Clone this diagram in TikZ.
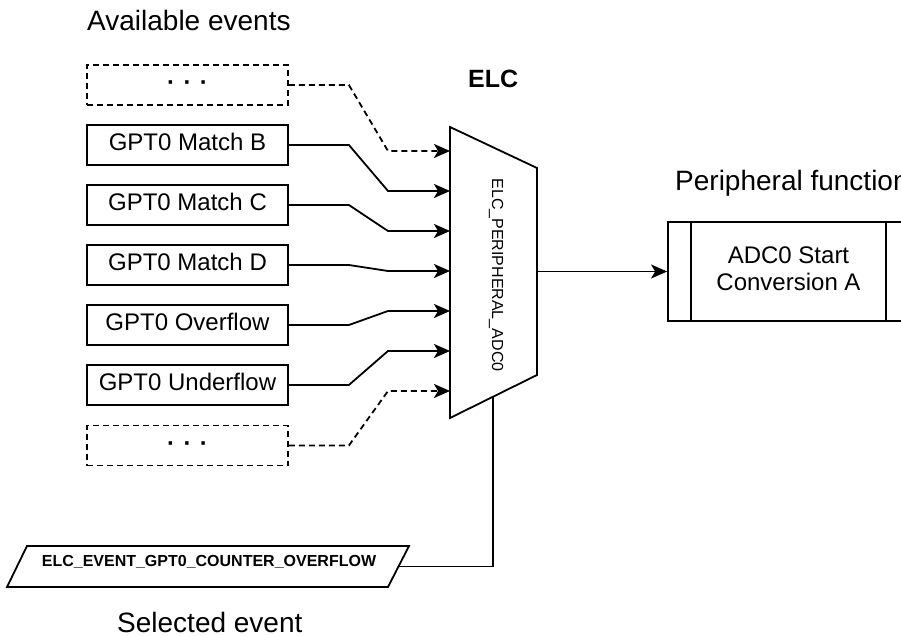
\documentclass[tikz,border=0pt]{standalone}
\usepackage{fontspec}
\setmainfont{Liberation Sans}
\usetikzlibrary{arrows.meta}

\tikzset{
  evbox/.style={draw, line width=1.8pt, minimum width=201pt, minimum height=40pt,
    inner sep=0pt, font=\fontsize{24}{28}\selectfont, execute at begin node=\strut},
  dotbox/.style={evbox, dash pattern=on 6pt off 4pt},
  sig/.style={line width=1.8pt, -{Stealth[length=16pt,width=14pt,inset=4pt]}},
  dsig/.style={sig, dash pattern=on 6pt off 4pt},
  caption/.style={anchor=base west, inner sep=0pt, font=\fontsize{28}{32}\selectfont},
}

\begin{document}
\begin{tikzpicture}[x=1pt,y=-1pt]
   \useasboundingbox (0,0) rectangle (901,636);

   % labels
   \node[caption] (lblAvail) at (87,31) {Available events};
   \node[caption, font=\bfseries\fontsize{25}{30}\selectfont] (lblElc) at (468,88) {ELC};
   \node[caption] (lblPeriph) at (675,191) {Peripheral function};
   \node[caption] (lblSel) at (117,632) {Selected event};

   % available events
   \node[dotbox] (dotsTop) at (187.5,85) {\bfseries·\hspace{0.35em}·\hspace{0.35em}·};
   \node[evbox] (matchB) at (187.5,145) {GPT0 Match B};
   \node[evbox] (matchC) at (187.5,205) {GPT0 Match C};
   \node[evbox] (matchD) at (187.5,265) {GPT0 Match D};
   \node[evbox] (ovf) at (187.5,325) {GPT0 Overflow};
   \node[evbox] (udf) at (187.5,385) {GPT0 Underflow};
   \node[dotbox] (dotsBot) at (187.5,445.5) {\bfseries·\hspace{0.35em}·\hspace{0.35em}·};

   % multiplexer
   \draw[line width=1.8pt] (450,127) -- (537,168) -- (537,375) -- (450,418) -- cycle;
   \node[rotate=-90, font=\fontsize{16}{18}\selectfont] (muxLabel) at (496,275) {ELC\_PERIPHERAL\_ADC0};
   \coordinate (in1) at (450,151);
   \coordinate (in2) at (450,191);
   \coordinate (in3) at (450,231);
   \coordinate (in4) at (450,271);
   \coordinate (in5) at (450,311);
   \coordinate (in6) at (450,351);
   \coordinate (in7) at (450,391);
   \coordinate (muxOut) at (537,271.5);
   \coordinate (muxSel) at (493,396.7);

   % inputs
   \draw[dsig] (dotsTop.east) -- ++(60,0) -- ([xshift=-62pt]in1) -- (in1);
   \draw[sig] (matchB.east) -- ++(60,0) -- ([xshift=-62pt]in2) -- (in2);
   \draw[sig] (matchC.east) -- ++(60,0) -- ([xshift=-62pt]in3) -- (in3);
   \draw[sig] (matchD.east) -- ++(60,0) -- ([xshift=-62pt]in4) -- (in4);
   \draw[sig] (ovf.east) -- ++(60,0) -- ([xshift=-62pt]in5) -- (in5);
   \draw[sig] (udf.east) -- ++(60,0) -- ([xshift=-62pt]in6) -- (in6);
   \draw[dsig] (dotsBot.east) -- ++(60,0) -- ([xshift=-62pt]in7) -- (in7);

   % peripheral function
   \node[draw, line width=1.8pt, minimum width=241pt, minimum height=99pt, inner sep=0pt,
     align=center, font=\fontsize{24}{27}\selectfont] (adcStart) at (788.5,271.5)
     {\strut ADC0 Start\\Conversion A\strut};
   \draw[line width=1.8pt] ([xshift=24pt]adcStart.north west) -- ([xshift=24pt]adcStart.south west);
   \draw[line width=1.8pt] ([xshift=-24pt]adcStart.north east) -- ([xshift=-24pt]adcStart.south east);
   \draw[sig] (muxOut) -- (adcStart.west);

   % selected event
   \draw[line width=1.8pt] (7,587) -- (27,546) -- (409,546) -- (388,587) -- cycle;
   \node[anchor=base, inner sep=0pt, font=\bfseries\fontsize{16}{18}\selectfont] (selEvent) at (209,566.7)
     {ELC\_EVENT\_GPT0\_COUNTER\_OVERFLOW};
   \coordinate (selOut) at (398.5,566.5);
   \draw[line width=1.8pt] (selOut) -| (muxSel);

\end{tikzpicture}
\end{document}
